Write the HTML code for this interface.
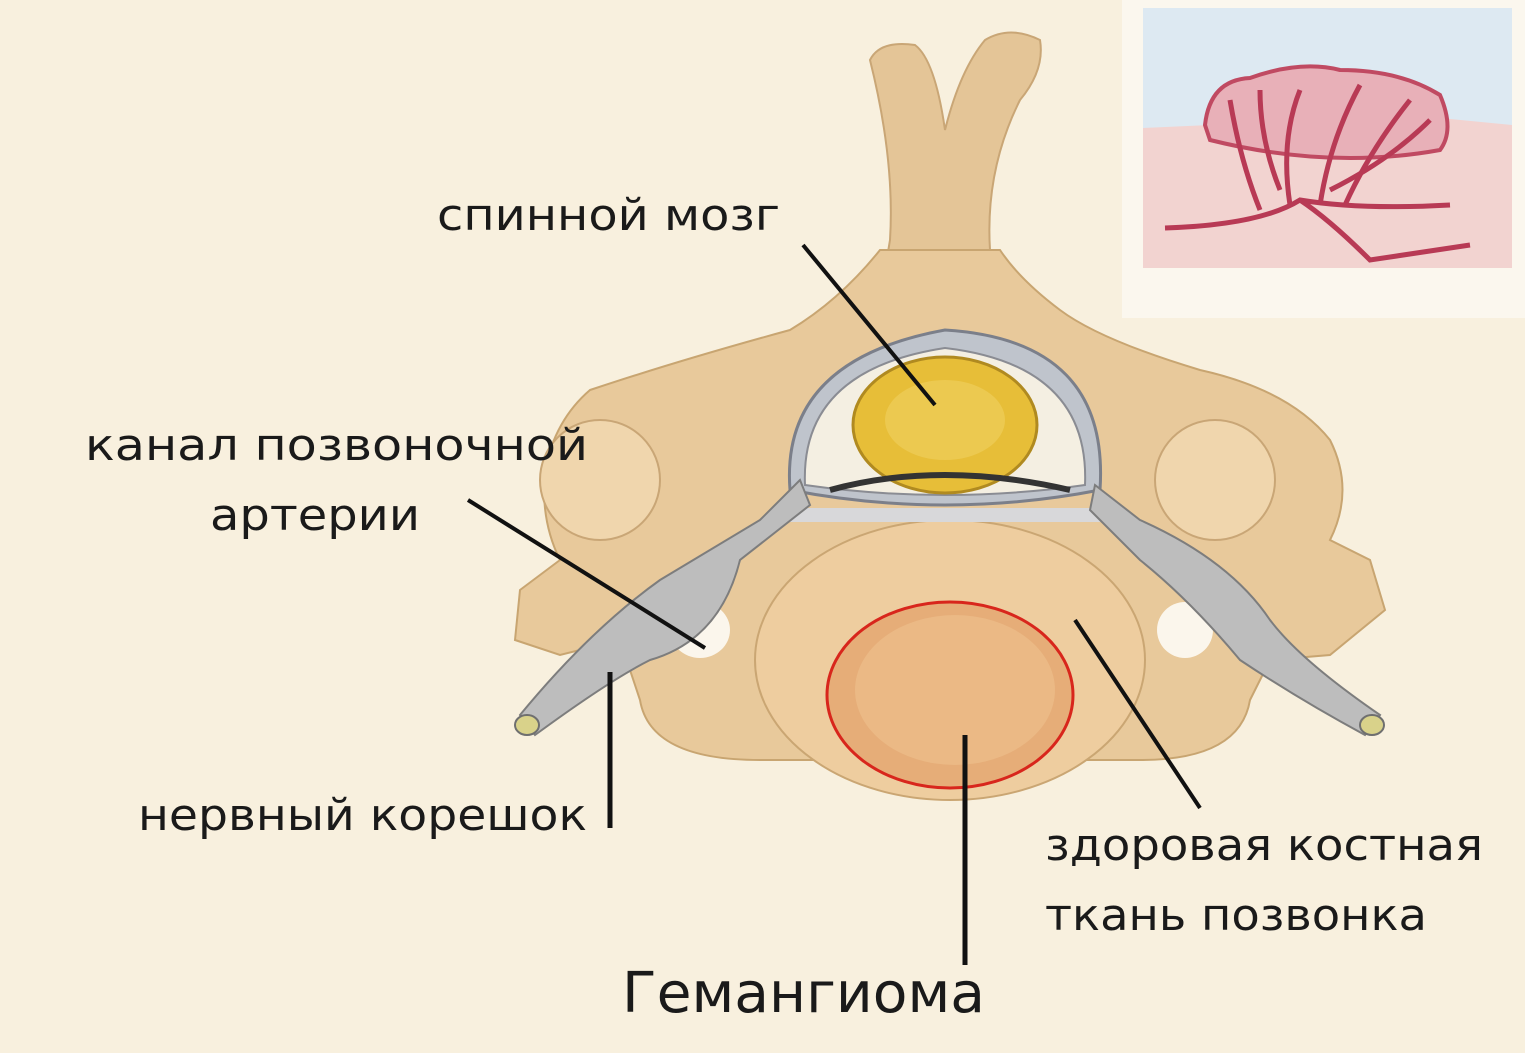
<!DOCTYPE html>
<html><head><meta charset="utf-8"><style>
html,body{margin:0;padding:0;width:1525px;height:1053px;overflow:hidden;background:#f8f0de;}
svg{display:block}
text{font-family:"DejaVu Sans","Liberation Sans",sans-serif;fill:#1a1a1a}
</style></head><body>
<svg width="1525" height="1053" viewBox="0 0 1525 1053">
<rect width="1525" height="1053" fill="#f8f0de"/>
<!-- inset -->
<rect x="1122" y="0" width="403" height="318" fill="#fbf7ee"/>
<rect x="1143" y="8" width="369" height="260" fill="#dde9f2"/>
<path d="M1143 128 L1210 125 Q1330 150 1440 118 L1512 125 L1512 268 L1143 268Z" fill="#f2d3d0"/>
<path d="M1205 125 Q1210 80 1250 78 Q1300 60 1340 70 Q1400 70 1440 95 Q1455 130 1440 150 Q1330 170 1210 140Z" fill="#e8b0b8" stroke="#c04a62" stroke-width="4"/>
<g stroke="#b83a55" stroke-width="5" fill="none">
<path d="M1165 228 Q1260 225 1300 200 Q1360 210 1450 205"/>
<path d="M1300 200 Q1330 220 1370 260 L1470 245"/>
<path d="M1260 210 Q1240 160 1230 100"/><path d="M1290 205 Q1280 140 1300 90"/>
<path d="M1320 205 Q1330 140 1360 85"/><path d="M1345 205 Q1370 150 1410 100"/>
<path d="M1280 190 Q1260 140 1260 90"/><path d="M1330 190 Q1390 160 1430 120"/>
</g>
<!-- spinous process -->
<path d="M870 60 Q880 40 915 45 Q935 60 945 130 Q960 70 985 40 Q1010 25 1040 40 Q1045 70 1020 100 Q985 170 990 250 L1000 300 L880 300 L890 240 Q895 160 870 60Z" fill="#e4c597" stroke="#c9a676" stroke-width="2"/>
<!-- main arch -->
<path d="M880 250 Q840 300 790 330 Q680 360 590 390 Q555 420 545 470 Q540 520 560 560 L520 590 L515 640 L560 655 L620 640 L640 700 Q650 760 760 760 L1140 760 Q1240 760 1250 700 L1270 660 L1330 655 L1385 610 L1370 560 L1330 540 Q1355 490 1330 440 Q1290 390 1200 370 Q1100 340 1060 310 Q1020 280 1000 250Z" fill="#e8c99b" stroke="#c8a571" stroke-width="2"/>
<ellipse cx="600" cy="480" rx="60" ry="60" fill="#f0d6ad" stroke="#c9a676" stroke-width="2"/>
<ellipse cx="1215" cy="480" rx="60" ry="60" fill="#f0d6ad" stroke="#c9a676" stroke-width="2"/>
<ellipse cx="700" cy="630" rx="30" ry="28" fill="#fbf6ec"/>
<ellipse cx="1185" cy="630" rx="28" ry="28" fill="#fbf6ec"/>
<ellipse cx="950" cy="660" rx="195" ry="140" fill="#eecd9f" stroke="#caa673" stroke-width="2"/>
<path d="M790 490 Q780 360 945 330 Q1110 340 1100 490 Q945 520 790 490Z" fill="#bfc4cc" stroke="#7b7f8a" stroke-width="3"/>
<path d="M805 485 Q800 370 945 348 Q1090 365 1085 485 Q945 505 805 485Z" fill="#f4efe2" stroke="#8a8c93" stroke-width="2"/>
<ellipse cx="945" cy="425" rx="92" ry="68" fill="#e7be38" stroke="#b08a20" stroke-width="3"/>
<ellipse cx="945" cy="420" rx="60" ry="40" fill="#f0d060" opacity="0.6"/>
<path d="M830 490 Q940 460 1070 490" stroke="#333" stroke-width="6" fill="none"/>
<rect x="790" y="508" width="320" height="14" fill="#d8d8da"/>
<path d="M800 480 L760 520 L660 580 Q590 630 520 715 L535 735 Q610 680 650 660 Q720 640 740 560 L810 505Z" fill="#bdbdbd" stroke="#7d7d7d" stroke-width="2"/>
<path d="M1095 485 L1140 520 Q1230 560 1270 620 Q1300 660 1380 715 L1365 735 Q1300 700 1240 660 Q1190 600 1140 560 L1090 510Z" fill="#bdbdbd" stroke="#7d7d7d" stroke-width="2"/>
<ellipse cx="527" cy="725" rx="12" ry="10" fill="#d9d28a" stroke="#6f6f6f" stroke-width="2"/>
<ellipse cx="1372" cy="725" rx="12" ry="10" fill="#d9d28a" stroke="#6f6f6f" stroke-width="2"/>
<ellipse cx="950" cy="695" rx="123" ry="93" fill="#e6ad78" stroke="#d8261c" stroke-width="3"/>
<ellipse cx="955" cy="690" rx="100" ry="75" fill="#ecbd8a" opacity="0.7"/>
<g stroke="#111" stroke-width="4" fill="none">
<line x1="803" y1="245" x2="935" y2="405"/>
<line x1="468" y1="500" x2="705" y2="648"/>
<line x1="610" y1="672" x2="610" y2="828" stroke-width="5"/>
<line x1="965" y1="735" x2="965" y2="965" stroke-width="5"/>
<line x1="1075" y1="620" x2="1200" y2="808"/>
</g>
<text x="437" y="230" font-size="44" textLength="343" lengthAdjust="spacingAndGlyphs">спинной мозг</text>
<text x="85" y="460" font-size="44" textLength="503" lengthAdjust="spacingAndGlyphs">канал позвоночной</text>
<text x="210" y="530" font-size="44" textLength="210" lengthAdjust="spacingAndGlyphs">артерии</text>
<text x="138" y="830" font-size="44" textLength="449" lengthAdjust="spacingAndGlyphs">нервный корешок</text>
<text x="1045" y="860" font-size="44" textLength="438" lengthAdjust="spacingAndGlyphs">здоровая костная</text>
<text x="1045" y="930" font-size="44" textLength="382" lengthAdjust="spacingAndGlyphs">ткань позвонка</text>
<text x="622" y="1012" font-size="56" textLength="363" lengthAdjust="spacingAndGlyphs">Гемангиома</text>
</svg>
</body></html>
